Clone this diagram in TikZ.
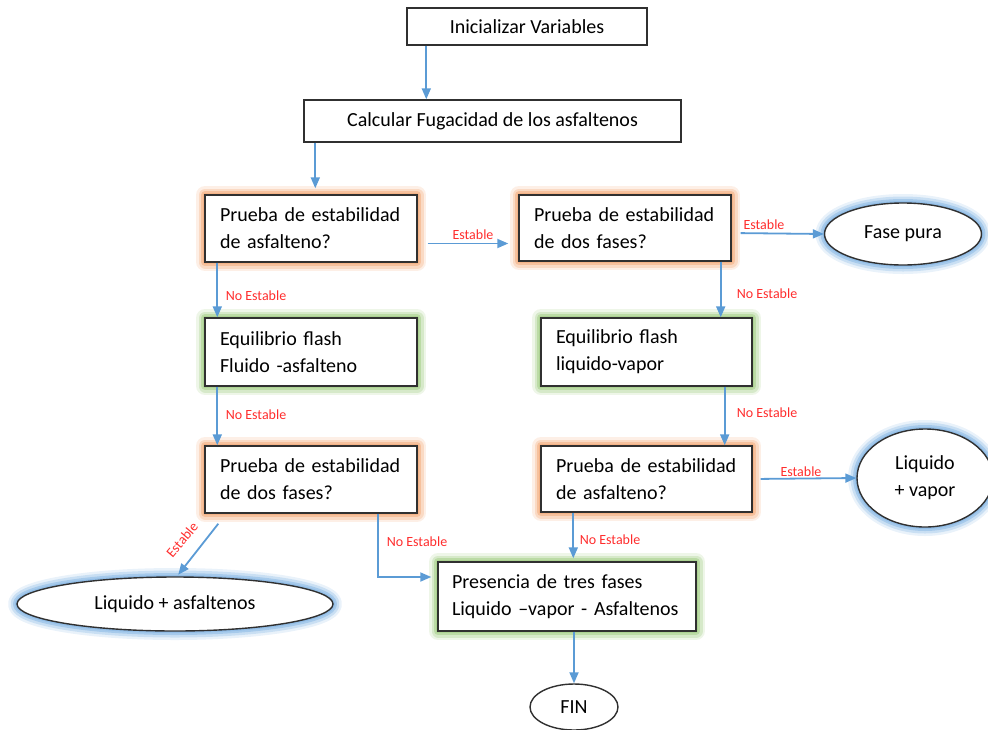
\documentclass[tikz,border=0pt]{standalone}
\usepackage{fontspec}
\setmainfont{Carlito}
\usetikzlibrary{arrows.meta,shapes.geometric,calc}
\definecolor{arrowblue}{HTML}{5B9BD5}
\definecolor{lblred}{HTML}{FF2D2D}
\definecolor{glowor}{HTML}{F4B183}
\definecolor{glowgr}{HTML}{A9D18E}
\definecolor{glowbl}{HTML}{8FBCE6}
\definecolor{boxline}{HTML}{303030}
\tikzset{
  base/.style={draw=boxline, line width=1.4pt, fill=white, font=\fontsize{20}{27}\selectfont},
  plainbox/.style={base, rectangle, inner sep=0pt, align=center},
  textbox/.style={base, rectangle, inner xsep=15pt, inner ysep=0pt, align=left},
  ell/.style={base, ellipse, inner sep=0pt, align=center},
  glow/.style={
    preaction={draw=#1, opacity=0.2, line width=18pt, line join=round},
    preaction={draw=#1, opacity=0.35, line width=13pt, line join=round},
    preaction={draw=#1, opacity=0.6, line width=8pt, line join=round},
    preaction={draw=#1, opacity=0.85, line width=4pt, line join=round}},
  arr/.style={draw=arrowblue, line width=1.8pt, -{Triangle[length=11pt,width=9pt]}},
  lbl/.style={text=lblred, font=\fontsize{14}{16}\selectfont, inner sep=0pt}
}
\begin{document}
\begin{tikzpicture}[x=1pt,y=-1pt]
\useasboundingbox (0,0) rectangle (988,729);
% nodes
\node[plainbox, minimum width=240pt, minimum height=37pt] (init) at (527,26.5) {Inicializar Variables};
\node[plainbox, minimum width=377pt, minimum height=42pt] (calc) at (492.5,121) {Calcular Fugacidad de los asfaltenos};
\node[textbox, glow=glowor, text width=182pt, minimum height=67pt] (p1) at (311,228.5) {Prueba de estabilidad\\de asfalteno?};
\node[textbox, glow=glowor, text width=182pt, minimum height=66pt] (p2) at (625,228) {Prueba de estabilidad\\de dos fases?};
\node[ell, glow=glowbl, minimum width=157pt, minimum height=62pt] (fase) at (903,234) {Fase pura};
\node[textbox, glow=glowgr, text width=182pt, minimum height=68pt] (eq1) at (311,352) {Equilibrio flash\\Fluido -asfalteno};
\node[textbox, glow=glowgr, text width=181pt, minimum height=68pt] (eq2) at (646.5,352) {Equilibrio flash\\liquido-vapor};
\node[textbox, glow=glowor, text width=182pt, minimum height=67pt] (p3) at (311,479.5) {Prueba de estabilidad\\de dos fases?};
\node[textbox, glow=glowor, text width=181pt, minimum height=66pt] (p4) at (646.5,479) {Prueba de estabilidad\\de asfalteno?};
\node[ell, glow=glowbl, minimum width=136pt, minimum height=98pt] (lv) at (925,478) {Liquido\\+ vapor};
\node[textbox, glow=glowgr, inner xsep=14pt, text width=230pt, minimum height=69pt] (pres) at (567,596.5) {Presencia de tres fases\\Liquido –vapor - Asfaltenos};
\node[ell, glow=glowbl, minimum width=316pt, minimum height=54pt] (la) at (175,604) {Liquido + asfaltenos};
\node[ell, minimum width=88pt, minimum height=46pt] (fin) at (574,707) {FIN};
% helper coordinates
\coordinate (a1) at ([xshift=20pt]init.south west);
\coordinate (a2) at ([xshift=12pt]calc.south west);
\coordinate (a3) at ([yshift=-15pt]p1.east);
\coordinate (a4) at ([yshift=-5pt]p2.east);
\coordinate (a5) at ([xshift=13pt]p1.south west);
\coordinate (a6) at ([xshift=13pt]eq1.south west);
\coordinate (a7) at ([xshift=-11pt]p2.south east);
\coordinate (a8) at ([xshift=-28pt]eq2.south east);
\coordinate (a9) at ([xshift=14pt,yshift=-10pt]p3.south west);
\coordinate (a10) at ([xshift=-40pt]p3.south east);
\coordinate (a11) at ([yshift=19.5pt]pres.west);
\coordinate (a12) at ([xshift=33pt]p4.south west);
% connectors
\draw[arr] (a1) -- (a1 |- calc.north);
\draw[arr, shorten >=6pt] (a2) -- (a2 |- p1.north);
\draw[arr, shorten <=10pt, shorten >=10pt] (a3) -- (a3 -| p2.west);
\draw[arr, shorten <=9pt] (a4) -- (fase.west);
\draw[arr] (a5) -- (a5 |- eq1.north);
\draw[arr] (a6) -- (a6 |- p3.north);
\draw[arr] (a7) -- (a7 |- eq2.north);
\draw[arr] (a8) -- (a8 |- p4.north);
\draw[arr, shorten <=8pt] (p4.east) -- (lv.west);
\draw[arr, shorten >=2pt] (a9) -- ([xshift=2pt]la.north);
\draw[arr, shorten >=6pt] (a10) |- (a11);
\draw[arr, shorten >=3pt] (a12) -- (a12 |- pres.north);
\draw[arr] (fin.north |- pres.south) -- (fin.north);
% labels
\node[lbl] (l1) at (473,235) {Estable};
\node[lbl] (l2) at (764,225) {Estable};
\node[lbl] (l3) at (256,296) {No Estable};
\node[lbl] (l4) at (256,415) {No Estable};
\node[lbl] (l5) at (767,294) {No Estable};
\node[lbl] (l6) at (767,413) {No Estable};
\node[lbl] (l7) at (801,472) {Estable};
\node[lbl] (l8) at (417,542) {No Estable};
\node[lbl] (l9) at (610,540) {No Estable};
\node[lbl, rotate=50] (l10) at (182,540) {Estable};
\end{tikzpicture}
\end{document}
